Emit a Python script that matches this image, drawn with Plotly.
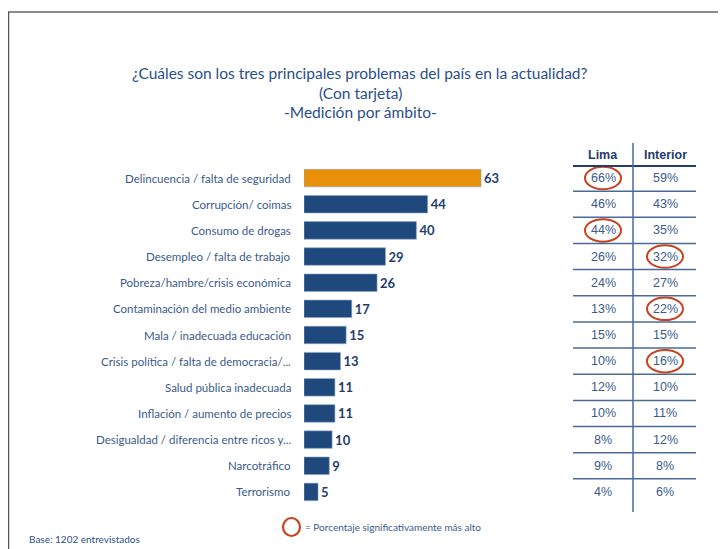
import plotly.graph_objects as go

categories = [
    "Delincuencia / falta de seguridad",
    "Corrupción/ coimas",
    "Consumo de drogas",
    "Desempleo / falta de trabajo",
    "Pobreza/hambre/crisis económica",
    "Contaminación del medio ambiente",
    "Mala / inadecuada educación",
    "Crisis política / falta de democracia/...",
    "Salud pública inadecuada",
    "Inflación / aumento de precios",
    "Desigualdad / diferencia entre ricos y...",
    "Narcotráfico",
    "Terrorismo",
]
total = [63, 44, 40, 29, 26, 17, 15, 13, 11, 11, 10, 9, 5]
lima = [66, 46, 44, 26, 24, 13, 15, 10, 12, 10, 8, 9, 4]
interior = [59, 43, 35, 32, 27, 22, 15, 16, 10, 11, 12, 8, 6]
lima_high = [True, False, True, False, False, False, False, False, False, False, False, False, False]
interior_high = [False, False, False, True, False, True, False, True, False, False, False, False, False]

# page body has an 8px margin; design in screen pixels and convert
OFF = 8
W, H = 726 - OFF, 549 - OFF
def px(x):
    return (x - OFF) / W
def py(y):
    return 1 - (y - OFF) / H

NAVY = "#1F497D"
ORANGE = "#E8900A"
TXT = "#3A5A8C"
RED = "#C8421E"
FONT = "Lato"

n = len(categories)
idx = list(range(n))
colors = [ORANGE] + [NAVY] * (n - 1)

fig = go.Figure()
fig.add_trace(go.Bar(
    x=total, y=idx, orientation="h",
    marker=dict(color=colors, line=dict(color="#8FA6C8", width=0.6)),
    width=0.67,
    text=[f"<b>{v}</b>" for v in total], textposition="outside",
    textfont=dict(family=FONT, size=13, color="#1F3D6D"),
    cliponaxis=False, hoverinfo="skip",
))

x0_px, x1_px = 304, 560
ppu = 2.81
row_top, row_bot = 165, 505
fig.update_layout(
    width=W, height=H, margin=dict(l=0, r=0, t=0, b=0),
    paper_bgcolor="white", plot_bgcolor="white", showlegend=False,
    xaxis=dict(domain=[px(x0_px), px(x1_px)], range=[0, (x1_px - x0_px) / ppu],
               visible=False, fixedrange=True),
    yaxis=dict(domain=[py(row_bot), py(row_top)], range=[n - 0.5, -0.5],
               visible=False, fixedrange=True),
)

ann = []
shapes = []
for i, c in enumerate(categories):
    ann.append(dict(x=px(293), y=i, xref="paper", yref="y", text=c, showarrow=False,
                    xanchor="right", yanchor="middle",
                    font=dict(family=FONT, size=11.5, color=TXT)))

for t, y in [("¿Cuáles son los tres principales problemas del país en la actualidad?", 73),
             ("(Con tarjeta)", 93), ("-Medición por ámbito-", 112)]:
    ann.append(dict(x=px(360), y=py(y), xref="paper", yref="paper", text=t, showarrow=False,
                    xanchor="center", yanchor="middle",
                    font=dict(family=FONT, size=15.5, color="#2A4F8A")))

lima_x, int_x = 603, 665
for xc, t in [(lima_x, "Lima"), (int_x, "Interior")]:
    ann.append(dict(x=px(xc), y=py(155), xref="paper", yref="paper", text=f"<b>{t}</b>",
                    showarrow=False, xanchor="center", yanchor="middle",
                    font=dict(family="Liberation Sans", size=12.5, color="#1F3D6D")))
for i in range(n):
    for xc, vals in [(lima_x, lima), (int_x, interior)]:
        ann.append(dict(x=px(xc), y=i, xref="paper", yref="y", text=f"{vals[i]}%",
                        showarrow=False, xanchor="center", yanchor="middle",
                        font=dict(family="Liberation Sans", size=12.5, color=TXT)))
    for xc, flags in [(lima_x, lima_high), (int_x, interior_high)]:
        if flags[i]:
            shapes.append(dict(type="circle", xref="paper", yref="y",
                               x0=px(xc - 18), x1=px(xc + 18), y0=i - 0.43, y1=i + 0.43,
                               line=dict(color=RED, width=2)))

shapes.append(dict(type="line", xref="paper", yref="paper", x0=px(573), x1=px(696),
                   y0=py(166), y1=py(166), line=dict(color="#1F3D6D", width=2.2)))
for i in range(n - 1):
    shapes.append(dict(type="line", xref="paper", yref="y", x0=px(573), x1=px(696),
                       y0=i + 0.5, y1=i + 0.5, line=dict(color="#4A6A99", width=1.5)))
shapes.append(dict(type="line", xref="paper", yref="paper", x0=px(633), x1=px(633),
                   y0=py(143), y1=py(512), line=dict(color="#4A6A99", width=1.5)))

# frame
shapes.append(dict(type="line", xref="paper", yref="paper", x0=px(8), x1=px(726),
                   y0=py(12), y1=py(12), line=dict(color="#666666", width=1.5)))
shapes.append(dict(type="line", xref="paper", yref="paper", x0=px(8.5), x1=px(8.5),
                   y0=py(12), y1=py(549), line=dict(color="#555555", width=1.5)))

# legend
shapes.append(dict(type="circle", xref="paper", yref="paper", x0=px(283), x1=px(300),
                   y0=py(518), y1=py(536), line=dict(color=RED, width=2.2)))
ann.append(dict(x=px(303), y=py(527), xref="paper", yref="paper",
                text="= Porcentaje significativamente más alto", showarrow=False,
                xanchor="left", yanchor="middle",
                font=dict(family=FONT, size=10, color=TXT)))
ann.append(dict(x=px(27), y=py(539), xref="paper", yref="paper",
                text="Base: 1202 entrevistados", showarrow=False,
                xanchor="left", yanchor="middle",
                font=dict(family=FONT, size=10, color="#2A4F8A")))

fig.update_layout(annotations=ann, shapes=shapes)
fig.write_html("out.html")
